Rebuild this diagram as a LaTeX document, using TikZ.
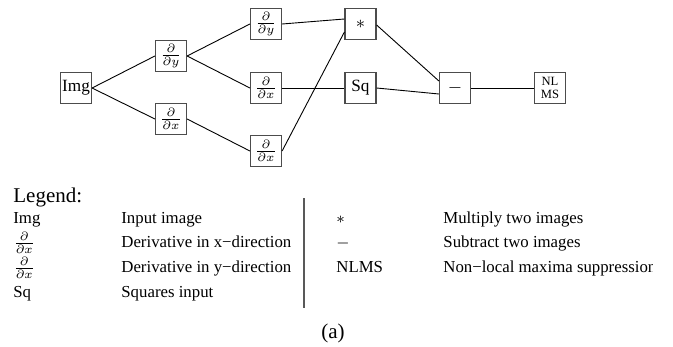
\documentclass[tikz,border=0pt]{standalone}
\usepackage{fontspec}
\setmainfont{Liberation Serif}
\usetikzlibrary{calc}
\begin{document}
\begin{tikzpicture}[x=0.5pt,y=-0.5pt,
  opbox/.style={draw=black!70,line width=0.6pt,minimum width=15.5pt,minimum height=15.5pt,inner sep=0pt,font=\fontsize{8.6}{10}\selectfont},
  smallbox/.style={opbox,font=\fontsize{6.3}{6.8}\selectfont,align=center},
  conn/.style={draw=black,line width=0.45pt},
  legtext/.style={anchor=base west,inner sep=0pt,font=\fontsize{8.4}{10}\selectfont},
  bigtext/.style={inner sep=0pt,font=\fontsize{10.5}{12}\selectfont}]
\useasboundingbox (0,0) rectangle (673,347);
% boxes
\node[opbox] (img) at (76,88) {Img};
\node[opbox] (dy1) at (171,56) {$\frac{\partial}{\partial y}$};
\node[opbox] (dx1) at (171,119) {$\frac{\partial}{\partial x}$};
\node[opbox] (dy2) at (266,24) {$\frac{\partial}{\partial y}$};
\node[opbox] (dx2) at (266,88) {$\frac{\partial}{\partial x}$};
\node[opbox] (dx3) at (266,151) {$\frac{\partial}{\partial x}$};
\node[opbox] (mul) at (360.5,24) {$*$};
\node[opbox] (sq) at (360.5,88) {Sq};
\node[opbox] (sub) at (455,88) {$-$};
\node[smallbox] (nlms) at (550,88) {NL\\MS};
% connectors
\draw[conn] (img.east) -- (dy1.west);
\draw[conn] (img.east) -- (dx1.west);
\draw[conn] (dy1.east) -- (dy2.west);
\draw[conn] (dy1.east) -- (dx2.west);
\draw[conn] (dx1.east) -- (dx3.west);
\draw[conn] (dy2.east) -- ($(mul.west)+(0,-5)$);
\draw[conn] (dx3.east) -- ($(mul.west)+(0,8)$);
\draw[conn] (dx2.east) -- (sq.west);
\draw[conn] ($(mul.east)+(0,1)$) -- ($(sub.west)+(0,-7)$);
\draw[conn] (sq.east) -- ($(sub.west)+(0,6)$);
\draw[conn] (sub.east) -- (nlms.west);
% legend
\node[bigtext,anchor=base west] (legend) at (13,202) {Legend:};
\node[legtext] (l1s) at (13,223) {Img};
\node[legtext] (l1t) at (121,223) {Input image};
\node[legtext] (l2s) at (13,247) {$\frac{\partial}{\partial x}$};
\node[legtext] (l2t) at (121,247) {Derivative in x−direction};
\node[legtext] (l3s) at (13,272) {$\frac{\partial}{\partial x}$};
\node[legtext] (l3t) at (121,272) {Derivative in y−direction};
\node[legtext] (l4s) at (13,297) {Sq};
\node[legtext] (l4t) at (121,297) {Squares input};
\coordinate (sepTop) at (304,198);
\coordinate (sepBot) at (304,308);
\draw[draw=black!65,line width=0.75pt] (sepTop) -- (sepBot);
\node[legtext] (r1s) at (336,223) {$*$};
\node[legtext] (r1t) at (443,223) {Multiply two images};
\node[legtext] (r2s) at (336,247) {$-$};
\node[legtext] (r2t) at (443,247) {Subtract two images};
\node[legtext] (r3s) at (336,272) {NLMS};
\begin{scope}
\clip (430,250) rectangle (652,290);
\node[legtext] (r3t) at (443,272) {Non−local maxima suppression};
\end{scope}
\node[bigtext,anchor=base] (cap) at (333,338) {(a)};
\end{tikzpicture}
\end{document}
